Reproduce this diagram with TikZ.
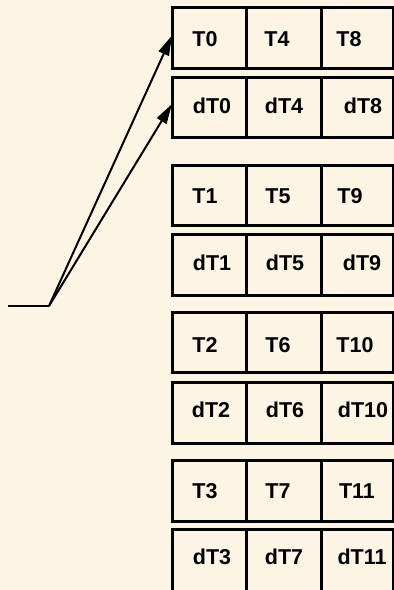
\documentclass[tikz,border=0pt]{standalone}
\usepackage{fontspec}
\setmainfont{Liberation Sans}
\usetikzlibrary{arrows.meta}
\definecolor{bg}{HTML}{FCF5E3}
\begin{document}
\begin{tikzpicture}[x=1pt,y=-1pt,
  cellbox/.style={draw, line width=3pt, fill=bg, inner sep=0pt, outer sep=0pt},
  lbl/.style={font=\bfseries\fontsize{21.5}{24}\selectfont, inner sep=0pt},
  conn/.style={line width=2pt},
  arr/.style={conn, -{Triangle[length=20pt,width=11pt]}}]
\fill[bg] (0,0) rectangle (394,590);
\useasboundingbox (0,0) rectangle (394,590);
\foreach \r/\top/\bot/\ty/\la/\xa/\lb/\xb/\lc/\xc in {
  r0/7/68/39/T0/205/T4/277/T8/349,
  r1/77/137/106/dT0/212/dT4/284/dT8/363,
  r2/165/225/196/T1/205/T5/278/T9/350,
  r3/234/295/263/dT1/212/dT5/285/dT9/362,
  r4/312/372/345/T2/205/T6/278/T10/355,
  r5/382/443/410/dT2/211/dT6/285/dT10/363,
  r6/460/521/491/T3/205/T7/278/T11/357,
  r7/529/592/557/dT3/212/dT7/284/dT11/362}{
  \pgfmathsetmacro{\cy}{(\top+\bot)/2}
  \pgfmathsetmacro{\hh}{\bot-\top}
  \node[cellbox, minimum width=74pt, minimum height=\hh pt] (\r-1) at (209,\cy) {};
  \node[cellbox, minimum width=75pt, minimum height=\hh pt] (\r-2) at (283.5,\cy) {};
  \node[cellbox, minimum width=72pt, minimum height=\hh pt] (\r-3) at (357,\cy) {};
  \node[lbl] (\r-1t) at (\xa,\ty) {\la};
  \node[lbl] (\r-2t) at (\xb,\ty) {\lb};
  \node[lbl] (\r-3t) at (\xc,\ty) {\lc};
}
\coordinate (start) at (8,306);
\coordinate (src) at (49,306);
\draw[conn] (start) -- (src);
\draw[arr] (src) -- ([yshift=2pt]r0-1.west);
\draw[arr] (src) -- ([yshift=3pt]r1-1.west);
\end{tikzpicture}
\end{document}
